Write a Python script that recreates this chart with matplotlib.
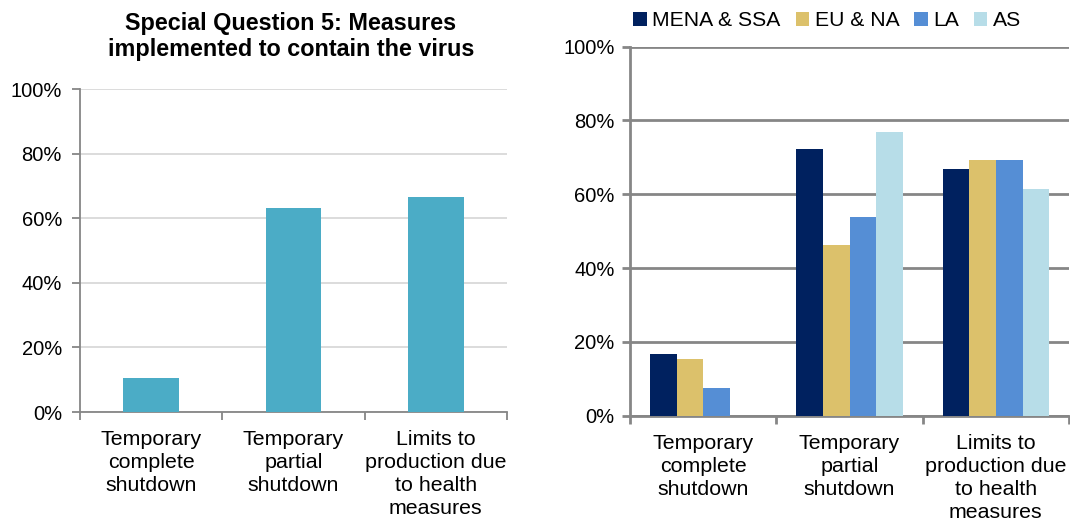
import matplotlib
matplotlib.use('Agg')
import matplotlib.pyplot as plt
import numpy as np
from matplotlib.patches import Patch

plt.rcParams['font.family'] = ['Liberation Sans', 'DejaVu Sans']

# data
categories = ['Temporary\ncomplete\nshutdown',
              'Temporary\npartial\nshutdown',
              'Limits to\nproduction due\nto health\nmeasures']
total = [0.104, 0.631, 0.665]

regions = ['MENA & SSA', 'EU & NA', 'LA', 'AS']
by_region = {
    'MENA & SSA': [0.166, 0.723, 0.668],
    'EU & NA':    [0.154, 0.462, 0.692],
    'LA':         [0.076, 0.538, 0.692],
    'AS':         [0.0,   0.769, 0.615],
}
region_colors = ['#00215f', '#dcc16b', '#558ed5', '#b7dde8']
yticks = [0, 0.2, 0.4, 0.6, 0.8, 1.0]
ytick_labels = ['0%', '20%', '40%', '60%', '80%', '100%']

FS = 14.5
CAT_FS = 15.4

fig = plt.figure(figsize=[10.7, 5.24], dpi=100)

################################################################################
# left panel
################################################################################

ax1 = fig.add_axes([0.0748, 0.2137, 0.399, 0.6163])
x = np.arange(len(categories))
ax1.bar(x, total, width=0.39, color='#4bacc6', zorder=3)
ax1.set_xlim(-0.5, len(categories) - 0.5)
ax1.set_ylim(0, 1.0)
ax1.set_yticks(yticks)
ax1.set_yticklabels(ytick_labels, fontsize=FS)
ax1.yaxis.grid(True, color='#d9d9d9', linewidth=1.3, zorder=0)
ax1.set_xticks(np.arange(len(categories) + 1) - 0.5)
ax1.set_xticklabels([])
ax1.set_xticks(x, minor=True)
ax1.set_xticklabels(categories, minor=True, fontsize=CAT_FS, linespacing=1.27)
ax1.tick_params(axis='x', which='minor', length=0, pad=13)
ax1.tick_params(axis='x', which='major', length=6, width=1.3, color='#868686')
ax1.tick_params(axis='y', length=6, width=1.3, color='#868686', pad=7)
for s in ['top', 'right']:
    ax1.spines[s].set_visible(False)
for s in ['left', 'bottom']:
    ax1.spines[s].set_color('#868686')
    ax1.spines[s].set_linewidth(1.3)
ax1.set_axisbelow(True)
fig.text(0.272, 0.978, 'Special Question 5: Measures\nimplemented to contain the virus',
         ha='center', va='top', fontsize=16.8, fontweight='bold', linespacing=1.22)

################################################################################
# right panel
################################################################################

ax2 = fig.add_axes([0.5888, 0.2067, 0.4103, 0.7042])
w = 0.182
for i, r in enumerate(regions):
    ax2.bar(x + (i - 1.5) * w, by_region[r], width=w, color=region_colors[i], zorder=3)
ax2.set_xlim(-0.5, len(categories) - 0.5)
ax2.set_ylim(0, 1.0)
ax2.set_yticks(yticks)
ax2.set_yticklabels(ytick_labels, fontsize=FS)
ax2.yaxis.grid(True, color='#868686', linewidth=2, zorder=0)
ax2.set_xticks(np.arange(len(categories) + 1) - 0.5)
ax2.set_xticklabels([])
ax2.set_xticks(x, minor=True)
ax2.set_xticklabels(categories, minor=True, fontsize=CAT_FS, linespacing=1.27)
ax2.tick_params(axis='x', which='minor', length=0, pad=13)
ax2.tick_params(axis='x', which='major', length=6, width=2, color='#868686')
ax2.tick_params(axis='y', length=6, width=2, color='#868686', pad=5)
for s in ['top', 'right']:
    ax2.spines[s].set_visible(False)
for s in ['left', 'bottom']:
    ax2.spines[s].set_color('#868686')
    ax2.spines[s].set_linewidth(2)
ax2.set_axisbelow(True)

handles = [Patch(facecolor=c, edgecolor='none') for c in region_colors]
fig.legend(handles, regions, loc='center left', bbox_to_anchor=(0.592, 0.96),
           ncol=4, frameon=False, fontsize=15.2, handlelength=0.65, handleheight=0.65,
           handletextpad=0.25, columnspacing=0.7, borderaxespad=0, borderpad=0)

fig.savefig('out.png', dpi=100)
